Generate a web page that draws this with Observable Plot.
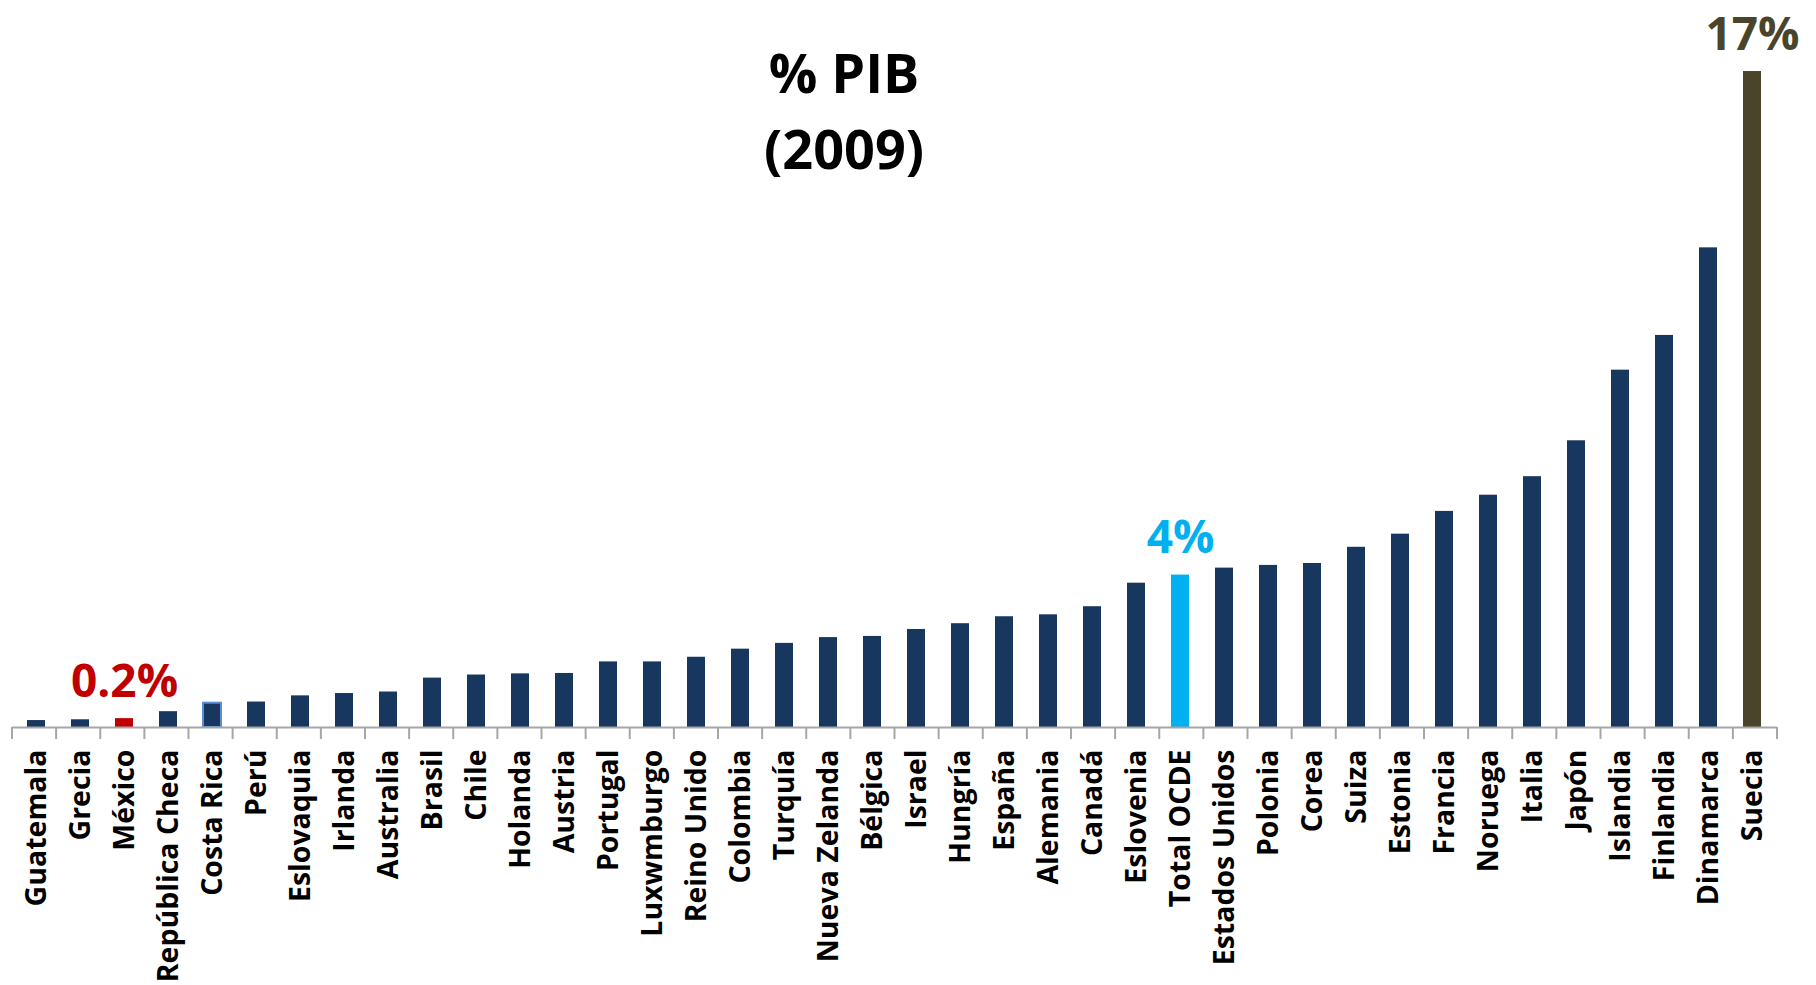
<!DOCTYPE html>
<html>
<head>
<meta charset="utf-8">
<script src="https://cdn.jsdelivr.net/npm/d3@7"></script>
<script src="https://cdn.jsdelivr.net/npm/@observablehq/plot@0.6"></script>
<style>
html, body { margin: 0; padding: 0; background: #ffffff; }
#chart svg { display: block; }
</style>
</head>
<body>
<div id="chart"></div>
<script>
// ---- Data ----
const countries = [
  "Guatemala", "Grecia", "México", "República Checa", "Costa Rica", "Perú",
  "Eslovaquia", "Irlanda", "Australia", "Brasil", "Chile", "Holanda", "Austria",
  "Portugal", "Luxwmburgo", "Reino Unido", "Colombia", "Turquía", "Nueva Zelanda",
  "Bélgica", "Israel", "Hungría", "España", "Alemania", "Canadá", "Eslovenia",
  "Total OCDE", "Estados Unidos", "Polonia", "Corea", "Suiza", "Estonia",
  "Francia", "Noruega", "Italia", "Japón", "Islandia", "Finlandia", "Dinamarca", "Suecia"
];
const values = [
  0.18, 0.20, 0.23, 0.41, 0.63, 0.66,
  0.82, 0.88, 0.92, 1.28, 1.36, 1.39, 1.40,
  1.70, 1.70, 1.82, 2.03, 2.18, 2.33,
  2.36, 2.54, 2.69, 2.87, 2.92, 3.13, 3.74,
  3.95, 4.13, 4.20, 4.25, 4.67, 5.01,
  5.60, 6.02, 6.50, 7.43, 9.26, 10.16, 12.43, 17.0
];
const calloutCountries = ["México", "Total OCDE", "Suecia"];
const calloutLabels = ["0.2%", "4%", "17%"];
const titleLines = ["% PIB", "(2009)"];

// ---- Styles ----
const NAVY = "#17375E";
const highlightFill = { "México": "#C00000", "Total OCDE": "#00B0F0", "Suecia": "#4A452A" };
const fillOf = c => highlightFill[c] || NAVY;
const strokeOf = c => (c === "Costa Rica" ? "#5B8FD6" : "none");

const data = countries.map((c, i) => ({ country: c, value: values[i] }));
const callouts = calloutCountries.map((c, i) => ({
  country: c, value: values[countries.indexOf(c)], label: calloutLabels[i]
}));

// Category boundary tick marks below the baseline
function boundaryTicks(index, scales, vals, dims) {
  const { width, marginLeft, marginRight } = dims;
  const n = countries.length;
  const step = (width - marginLeft - marginRight) / n;
  const y0 = scales.y(0);
  const g = d3.create("svg:g");
  for (let i = 0; i <= n; i++) {
    const x = marginLeft + i * step;
    g.append("line")
      .attr("x1", x).attr("x2", x)
      .attr("y1", y0).attr("y2", y0 + 12)
      .attr("stroke", "#a6a6a6").attr("stroke-width", 2);
  }
  return g.node();
}

const chart = Plot.plot({
  width: 1816,
  height: 985,
  marginTop: 71,
  marginBottom: 258,
  marginLeft: 12,
  marginRight: 39,
  style: { fontFamily: "'Open Sans', sans-serif", background: "#ffffff", overflow: "visible" },
  x: { domain: countries, paddingInner: 0.59, paddingOuter: 0.295, label: null },
  y: { domain: [0, 17], axis: null },
  color: { type: "identity" },
  marks: [
    Plot.barY(data, {
      x: "country", y: "value",
      fill: d => fillOf(d.country),
      stroke: d => strokeOf(d.country),
      strokeWidth: 2
    }),
    Plot.ruleY([0], { stroke: "#a6a6a6", strokeWidth: 2 }),
    boundaryTicks,
    Plot.axisX({
      tickSize: 0,
      tickPadding: 22,
      tickRotate: -90,
      fontSize: 28.5,
      fontWeight: "bold",
      fill: "#000000",
      label: null
    }),
    Plot.text(callouts, {
      x: "country", y: "value", text: "label",
      fill: d => fillOf(d.country),
      fontSize: 46, fontWeight: "bold",
      lineAnchor: "bottom", dy: -22
    }),
    Plot.text([titleLines.join("\n")], {
      frameAnchor: "top", dx: -51, dy: 35,
      lineAnchor: "middle", lineHeight: 1.42,
      fontSize: 54, fontWeight: "bold", fill: "#000000"
    })
  ]
});
document.getElementById("chart").appendChild(chart);
</script>
</body>
</html>
